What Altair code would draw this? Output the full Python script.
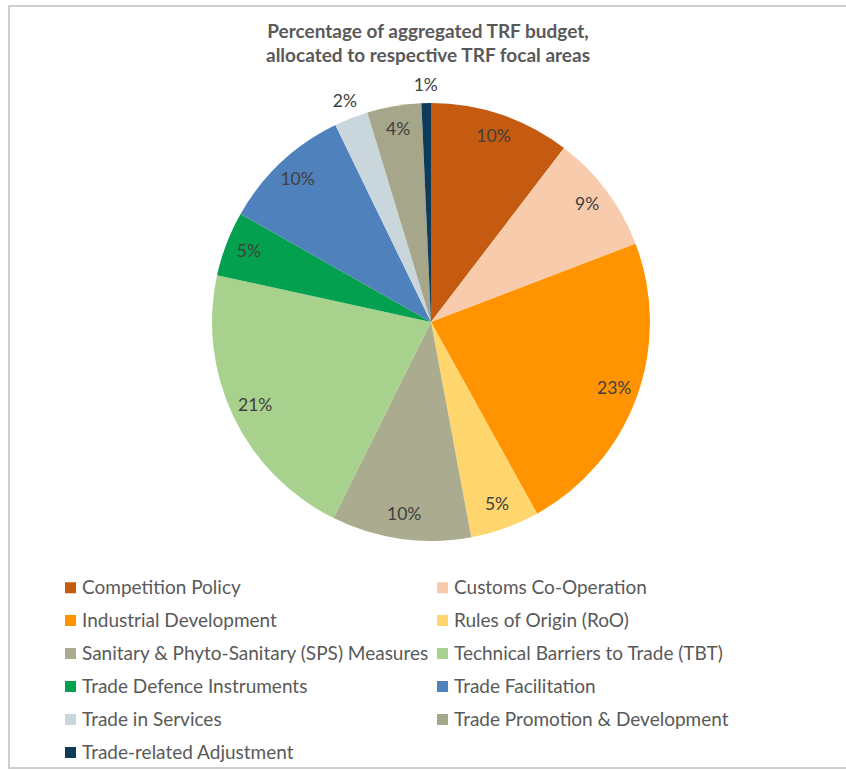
import altair as alt
import pandas as pd

TITLE_LINES = ["Percentage of aggregated TRF budget,", "allocated to respective TRF focal areas"]

categories = [
    "Competition Policy",
    "Customs Co-Operation",
    "Industrial Development",
    "Rules of Origin (RoO)",
    "Sanitary & Phyto-Sanitary (SPS) Measures",
    "Technical Barriers to Trade (TBT)",
    "Trade Defence Instruments",
    "Trade Facilitation",
    "Trade in Services",
    "Trade Promotion & Development",
    "Trade-related Adjustment",
]
values = [10.4, 8.8, 22.8, 5.1, 10.3, 21.1, 4.8, 9.6, 2.5, 4.0, 0.7]
labels = ["10%", "9%", "23%", "5%", "10%", "21%", "5%", "10%", "2%", "4%", "1%"]
colors = [
    "#C55A11", "#F8CBAD", "#FF9400", "#FFD56E", "#ABAB8F", "#A9D18E",
    "#03A04F", "#4F81BD", "#C9D6DC", "#A6A68A", "#0D3B59",
]

df = pd.DataFrame({
    "cat": categories,
    "value": values,
    "label": labels,
    "idx": list(range(len(categories))),
})
total = float(sum(values))

# Vega fills legend columns top-to-bottom; reorder so it reads row by row
n = len(categories)
legend_order = [categories[i] for i in range(0, n, 2)] + [categories[i] for i in range(1, n, 2)]
legend_colors = [colors[categories.index(c)] for c in legend_order]

CX, CY, R = 431, 322, 219

theta_scale = alt.Scale(domain=[0, total], zero=True)

base = alt.Chart(df).transform_window(
    cum="sum(value)", sort=[alt.SortField("idx")], frame=[None, 0]
).transform_calculate(
    start="datum.cum - datum.value",
    mid="datum.cum - datum.value / 2",
    r="datum.value < 3 ? 236 : 195",
)

arc = base.mark_arc(outerRadius=R).encode(
    x=alt.value(CX),
    y=alt.value(CY),
    theta=alt.Theta("start:Q", scale=theta_scale),
    theta2="cum:Q",
    color=alt.Color(
        "cat:N",
        scale=alt.Scale(domain=legend_order, range=legend_colors),
        legend=alt.Legend(
            title=None,
            orient="none",
            legendX=61,
            legendY=578,
            columns=2,
            symbolType="square",
            symbolSize=121,
            symbolStrokeWidth=0,
            labelFont="Lato",
            labelFontSize=19,
            labelColor="#595959",
            labelLimit=600,
            labelOffset=2,
            rowPadding=13,
            columnPadding=3,
            padding=0,
        ),
    ),
)

text = base.mark_text(font="Lato", fontSize=17.5, color="#404040").encode(
    x=alt.value(CX),
    y=alt.value(CY),
    theta=alt.Theta("mid:Q", scale=theta_scale),
    radius=alt.Radius("r:Q", scale=None),
    text="label:N",
)

one = pd.DataFrame({"a": [0]})

title = alt.Chart(one).mark_text(
    text=TITLE_LINES,
    font="Lato",
    fontSize=19,
    fontWeight="bold",
    color="#595959",
    lineHeight=24,
    baseline="alphabetic",
    align="center",
).encode(x=alt.value(428), y=alt.value(38))

frame = alt.Chart(one).mark_rect(
    fill="white", stroke="#CFCFCF", strokeWidth=2
).encode(x=alt.value(9), x2=alt.value(852), y=alt.value(6), y2=alt.value(768))

chart = alt.layer(frame, arc, text, title).properties(
    width=846, height=770, padding=0, autosize="none"
).configure_view(stroke=None)

chart.save("out.html", embed_options={"renderer": "svg", "actions": False})
